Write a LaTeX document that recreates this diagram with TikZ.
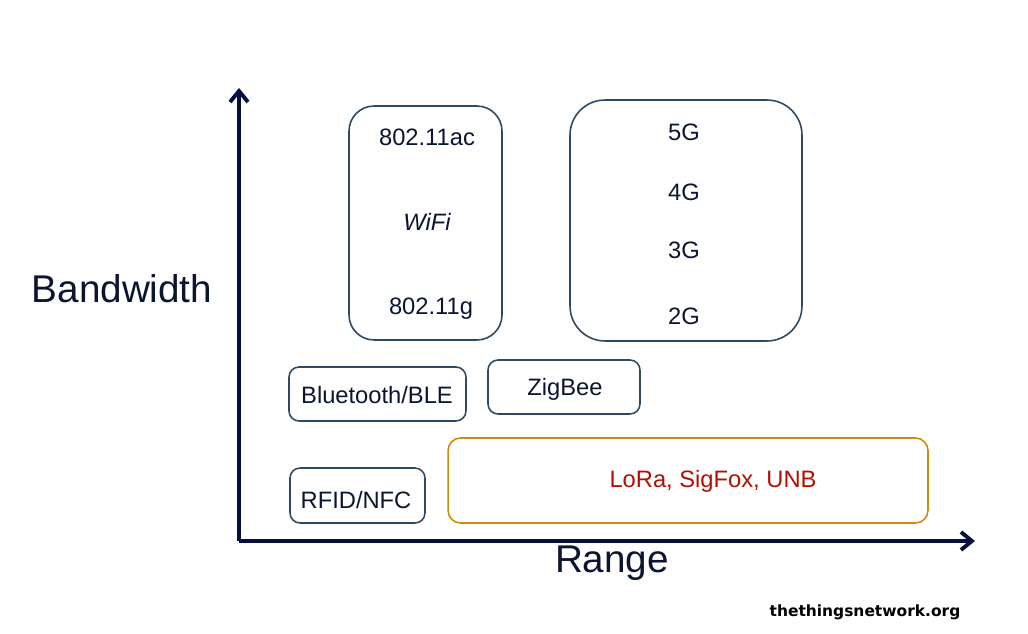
\documentclass[tikz,border=0pt]{standalone}
\usepackage{fontspec}
\setmainfont{Liberation Sans}
\newfontfamily\sitefont{DejaVu Sans}
\usepackage{xcolor}
\usepackage{tikz}
\usetikzlibrary{arrows.meta, positioning}

\definecolor{axisblue}{HTML}{061040}
\definecolor{boxline}{HTML}{2E4A62}
\definecolor{inktext}{HTML}{0A1530}
\definecolor{loraline}{HTML}{D08A10}
\definecolor{loratext}{HTML}{B01000}

\begin{document}
\begin{tikzpicture}[
  x=0.02cm, y=-0.02cm,
  tech/.style={draw=boxline, line width=0.9pt, rectangle, rounded corners=0.2cm},
  big/.style={tech, rounded corners=0.5cm},
  techlabel/.style={text=inktext, font=\fontsize{13.5}{16}\selectfont},
  axislabel/.style={text=inktext, font=\fontsize{22}{26}\selectfont},
  axis/.style={draw=axisblue, line width=2.2pt, -{Straight Barb[length=2.2mm, width=3.6mm]}}
]
  \useasboundingbox (0,0) rectangle (1028,634);

  % axes
  \coordinate (O) at (239,541);
  \coordinate (ytop) at (239,88);
  \coordinate (xend) at (975,541);
  \draw[axis] (O) -- (ytop);
  \draw[axis] (O) -- (xend);
  \node[axislabel] (bw) at (122,289) {Bandwidth};
  \node[axislabel] (rng) at (612,563) {Range};

  % WiFi
  \node[big, minimum width=3.06cm, minimum height=4.68cm] (wifi) at (425.5,223) {};
  \node[techlabel] (ac) at (427,137) {802.11ac};
  \node[techlabel, font=\fontsize{13.5}{16}\selectfont\itshape] (wf) at (427,222) {WiFi};
  \node[techlabel] (g) at (431,309) {802.11g};

  % cellular
  \node[big, rounded corners=0.7cm, minimum width=4.64cm, minimum height=4.82cm] (cell) at (686,220.5) {};
  \node[techlabel] (g5) at (684,132) {5G};
  \node[techlabel] (g4) at (684,192) {4G};
  \node[techlabel] (g3) at (684,250) {3G};
  \node[techlabel] (g2) at (684,316) {2G};

  % short range
  \node[tech, minimum width=3.54cm, minimum height=1.08cm] (ble) at (377.5,394) {};
  \node[techlabel] (blet) at (377,395) {Bluetooth/BLE};
  \node[tech, minimum width=3.04cm, minimum height=1.08cm] (zig) at (564,387) {};
  \node[techlabel] (zigt) at (565,389) {ZigBee};
  \node[tech, minimum width=2.7cm, minimum height=1.1cm] (rfid) at (357.5,495.5) {};
  \node[techlabel] (rfidt) at (356,500) {RFID/NFC};

  % LPWAN
  \node[tech, draw=loraline, rounded corners=0.25cm, minimum width=9.6cm, minimum height=1.7cm] (lora) at (688,480.5) {};
  \node[techlabel, text=loratext] (lorat) at (713,481) {LoRa, SigFox, UNB};

  \node[font=\sitefont\bfseries\fontsize{8.8}{11}\selectfont] (site) at (865,612) {thethingsnetwork.org};
\end{tikzpicture}
\end{document}
